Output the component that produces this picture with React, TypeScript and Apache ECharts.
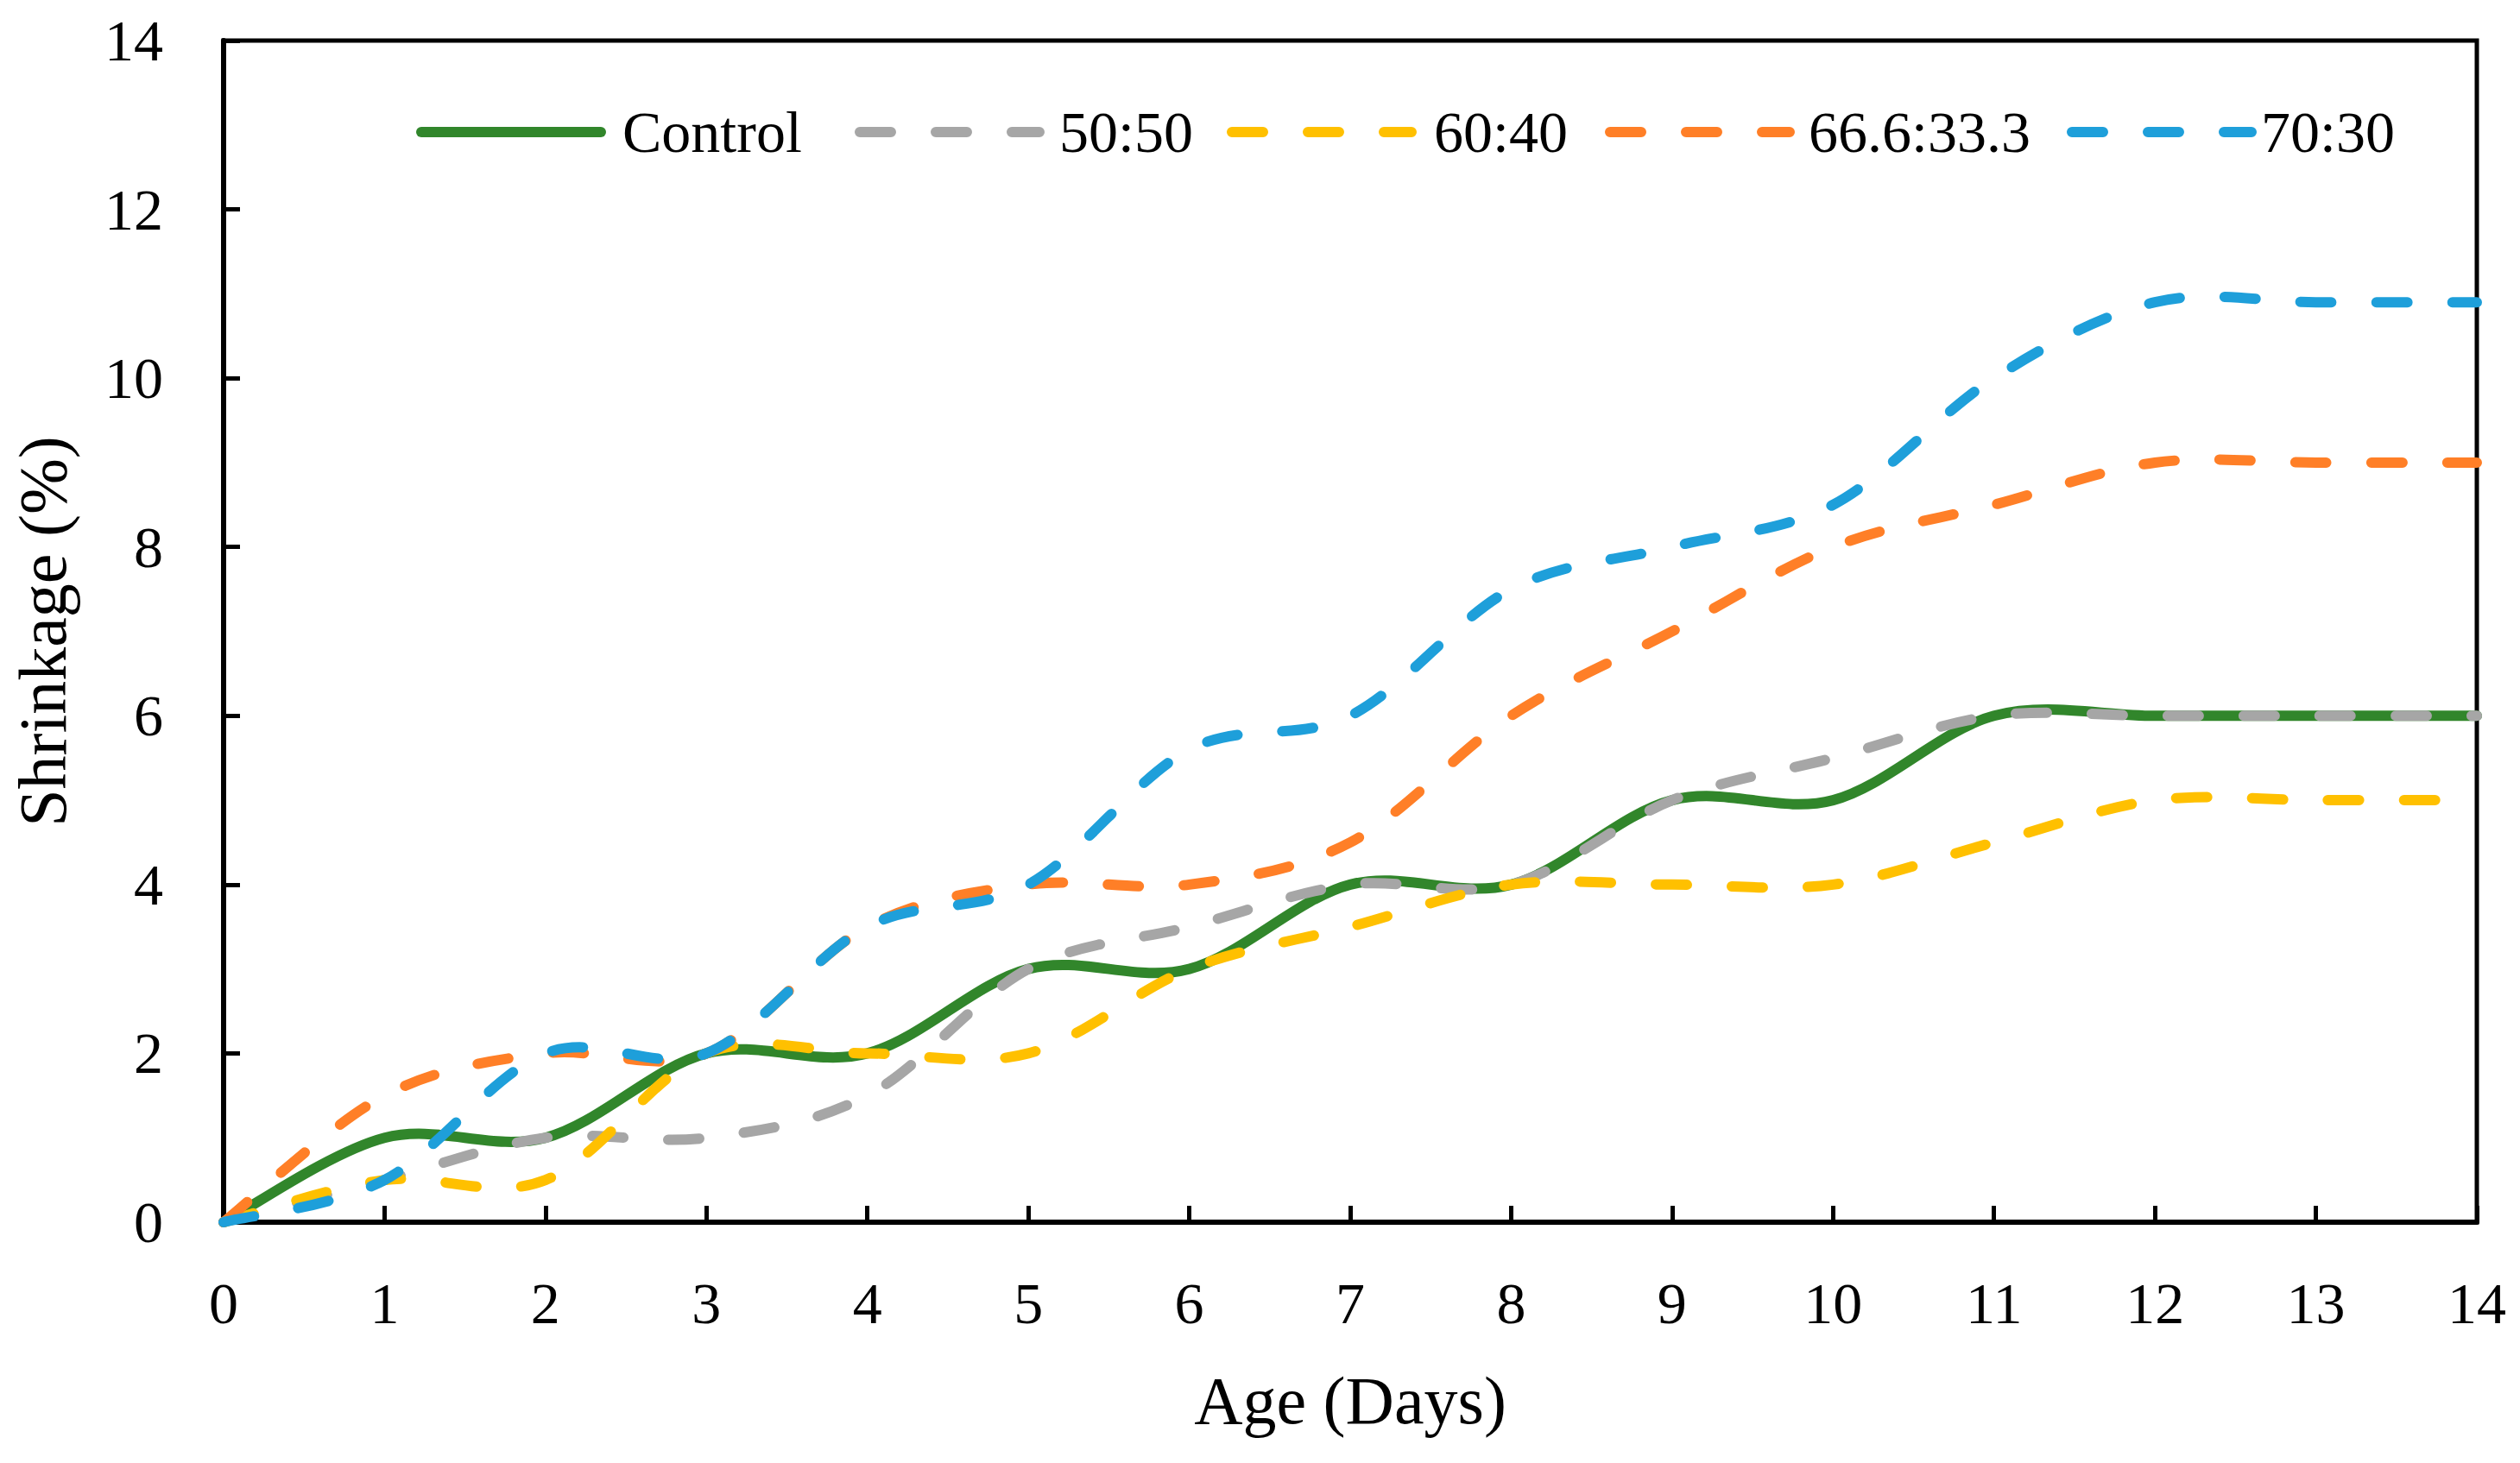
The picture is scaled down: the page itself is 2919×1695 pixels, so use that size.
import React, { useEffect, useRef } from "react";
import * as echarts from "echarts";

const days = [0, 1, 2, 3, 4, 5, 6, 7, 8, 9, 10, 11, 12, 13, 14];
const control = [0, 1, 1, 2, 2, 3, 3, 4, 4, 5, 5, 6, 6, 6, 6];
const ratio5050 = [0, 0.5, 1, 1, 1.5, 3, 3.5, 4, 4, 5, 5.5, 6, 6, 6, 6];
const ratio6040 = [0, 0.5, 0.5, 2, 2, 2, 3, 3.5, 4, 4, 4, 4.5, 5, 5, 5];
const ratio666 = [0, 1.5, 2, 2, 3.5, 4, 4, 4.5, 6, 7, 8, 8.5, 9, 9, 9];
const ratio7030 = [0, 0.5, 2, 2, 3.5, 4, 5.6, 6, 7.5, 8, 8.5, 10, 10.9, 10.9, 10.9];

const seriesNames = ["Control", "50:50", "60:40", "66.6:33.3", "70:30"];
const seriesValues = [control, ratio5050, ratio6040, ratio666, ratio7030];
const seriesColors = ["#31862B", "#A6A6A6", "#FFC000", "#FF7F27", "#1E9FDA"];
const seriesDashed = [false, true, true, true, true];

const xAxisTitle = "Age (Days)";
const yAxisTitle = "Shrinkage (%)";

const FONT = "'Liberation Serif', 'Times New Roman', serif";
const LINE_W = 12;
const DASH = [36, 52];

// legend placement (layout only)
const legendLefts = [482, 990, 1421, 1859, 2394];
const legendTextPad = [14, 12, 15, 11, 0];

const roundBar = (x0: number, x1: number, r: number) =>
  `M${x0 + r},0H${x1 - r}A${r},${r} 0 0 1 ${x1 - r},${2 * r}H${x0 + r}A${r},${r} 0 0 1 ${x0 + r},0Z`;
const ICON_SOLID = "path://" + roundBar(0, 220, 6);
const ICON_DASHED = "path://" + roundBar(0, 48, 6) + " " + roundBar(88, 136, 6) + " " + roundBar(176, 220, 6);

function smoothPath(pts: number[][]): string {
  const n = pts.length;
  if (n === 0) return "";
  let d = `M${pts[0][0]},${pts[0][1]}`;
  for (let i = 0; i < n - 1; i++) {
    const p0 = pts[Math.max(i - 1, 0)];
    const p1 = pts[i];
    const p2 = pts[i + 1];
    const p3 = pts[Math.min(i + 2, n - 1)];
    const c1x = p1[0] + (p2[0] - p0[0]) / 6;
    const c1y = p1[1] + (p2[1] - p0[1]) / 6;
    const c2x = p2[0] - (p3[0] - p1[0]) / 6;
    const c2y = p2[1] - (p3[1] - p1[1]) / 6;
    d += `C${c1x},${c1y} ${c2x},${c2y} ${p2[0]},${p2[1]}`;
  }
  return d;
}

export default function App() {
  const ref = useRef<HTMLDivElement>(null);

  useEffect(() => {
    if (!ref.current) return;
    const chart = echarts.init(ref.current, null, { renderer: "svg" });

    const series = seriesNames.map((name, i) => ({
      name,
      type: "custom",
      coordinateSystem: "cartesian2d",
      encode: { x: 0, y: 1 },
      data: days.map((d, j) => [d, seriesValues[i][j]]),
      itemStyle: { color: seriesColors[i] },
      clip: false,
      z: 2 + i,
      renderItem: (params: any, api: any) => {
        if (params.dataIndex !== 0) return null;
        const pts = days.map((d, j) => api.coord([d, seriesValues[i][j]]));
        return {
          type: "path",
          shape: { pathData: smoothPath(pts) },
          style: {
            fill: "none",
            stroke: seriesColors[i],
            lineWidth: LINE_W,
            lineDash: seriesDashed[i] ? DASH : null,
            lineCap: "round",
            lineJoin: "round",
          },
        };
      },
    }));

    const legends = seriesNames.map((name, i) => ({
      data: [name],
      orient: "horizontal",
      left: legendLefts[i],
      top: 119,
      padding: 0,
      itemWidth: 220,
      itemHeight: 12,
      icon: seriesDashed[i] ? ICON_DASHED : ICON_SOLID,
      selectedMode: false,
      itemStyle: { color: seriesColors[i], borderWidth: 0 },
      textStyle: {
        fontFamily: FONT,
        fontSize: 68,
        color: "#000",
        padding: [0, 0, 0, legendTextPad[i]],
      },
    }));

    chart.setOption({
      animation: false,
      backgroundColor: "#fff",
      grid: {
        left: 259,
        right: 50,
        top: 47,
        bottom: 279,
        show: true,
        borderColor: "#000",
        borderWidth: 5,
        backgroundColor: "transparent",
      },
      legend: legends,
      xAxis: {
        type: "value",
        min: 0,
        max: 14,
        interval: 1,
        name: xAxisTitle,
        nameLocation: "middle",
        nameGap: 167,
        nameTextStyle: { fontFamily: FONT, fontSize: 78, color: "#000" },
        axisLine: { show: true, onZero: false, lineStyle: { color: "#000", width: 6 } },
        axisTick: { show: true, inside: true, length: 19, lineStyle: { color: "#000", width: 5 } },
        axisLabel: { fontFamily: FONT, fontSize: 68, color: "#000", margin: 60 },
        splitLine: { show: false },
      },
      yAxis: {
        type: "value",
        min: 0,
        max: 14,
        interval: 2,
        name: yAxisTitle,
        nameLocation: "middle",
        nameGap: 171,
        nameTextStyle: { fontFamily: FONT, fontSize: 78, color: "#000" },
        axisLine: { show: true, onZero: false, lineStyle: { color: "#000", width: 6 } },
        axisTick: { show: true, inside: true, length: 19, lineStyle: { color: "#000", width: 5 } },
        axisLabel: { fontFamily: FONT, fontSize: 68, color: "#000", margin: 70 },
        splitLine: { show: false },
      },
      series,
    });

    return () => chart.dispose();
  }, []);

  return (
    <div
      ref={ref}
      style={{ position: "fixed", left: 0, top: 0, width: "2919px", height: "1695px", background: "#fff" }}
    />
  );
}
